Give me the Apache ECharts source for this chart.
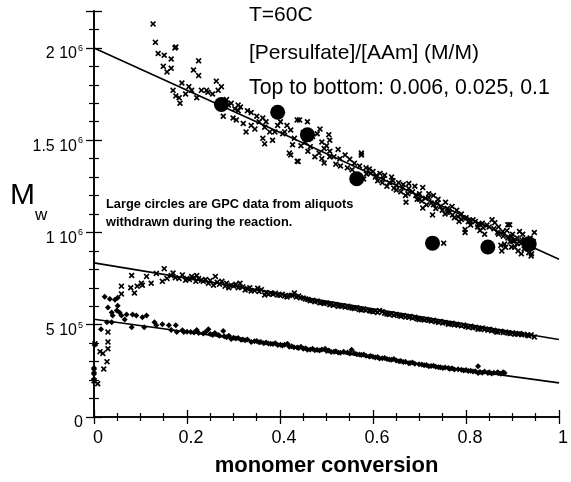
<!DOCTYPE html>
<html><head><meta charset="utf-8">
<script src="https://cdn.jsdelivr.net/npm/echarts@6/dist/echarts.min.js"></script>
<style>html,body{margin:0;padding:0;background:#fff}#c{width:571px;height:482px}</style>
</head><body><div id="c"></div>
<script>
// y values in units of 10^6
const xTickValues = [0, 0.2, 0.4, 0.6, 0.8, 1];
const xTickLabels = ['0', '0.2', '0.4', '0.6', '0.8', '1'];
const yTickValues = [0, 0.5, 1, 1.5, 2];
const yTickMantissa = ['0', '5 10', '1 10', '1.5 10', '2 10'];
const yTickExponent = ['', '5', '6', '6', '6'];

// [Persulfate]/[AAm] = 0.006
const s006 = [
[0.127,2.13],[0.132,2.03],[0.138,1.97],[0.151,1.96],[0.166,1.94],[0.174,2.0],[0.149,1.90],[0.157,1.87],[0.166,1.89],[0.170,1.77],[0.176,1.74],[0.185,1.70],[0.183,1.73],[0.189,1.81],[0.197,1.75],[0.204,1.79],[0.210,1.77],[0.214,1.88],[0.225,1.93],[0.225,1.85],[0.221,1.73],[0.231,1.77],[0.242,1.77],[0.263,1.82],[0.267,1.77],[0.274,1.79],[0.278,1.63],[0.289,1.69],[0.303,1.67],[0.310,1.69],[0.310,1.66],[0.299,1.62],[0.306,1.61],[0.321,1.59],[0.327,1.545],[0.338,1.58],[0.346,1.56],[0.363,1.62],[0.367,1.57],[0.378,1.545],[0.389,1.545],[0.406,1.535],[0.401,1.60],[0.423,1.555],[0.442,1.61],[0.459,1.60],[0.363,1.51],[0.367,1.48],[0.384,1.50],[0.410,1.545],[0.420,1.43],[0.427,1.475],[0.439,1.385],[0.431,1.51],[0.454,1.49],[0.465,1.465],[0.480,1.535],[0.490,1.49],[0.495,1.455],[0.484,1.43],[0.505,1.53],[0.507,1.44],[0.516,1.41],[0.490,1.40],[0.176,2.005],[0.338,1.65],[0.437,1.61],[0.486,1.56],[0.575,1.43],[0.507,1.50],
[0.245,1.76],[0.255,1.75],[0.285,1.72],[0.295,1.70],[0.315,1.68],[0.33,1.66],[0.35,1.63],[0.355,1.60],[0.37,1.60],[0.395,1.58],[0.415,1.58],[0.45,1.54],[0.47,1.52],[0.50,1.47],[0.525,1.45],[0.54,1.42],[0.46,1.44],[0.475,1.41],[0.445,1.47],
[0.437,1.386],[0.423,1.42],[0.495,1.376],[0.507,1.41],[0.529,1.40],[0.550,1.397],[0.575,1.42],[0.571,1.36],[0.592,1.344],[0.607,1.307],[0.622,1.29],[0.635,1.27],[0.650,1.254],[0.664,1.243],[0.677,1.238],[0.671,1.164],[0.692,1.2],[0.707,1.132],[0.713,1.185],[0.720,1.21],[0.730,1.20],[0.739,1.159],[0.728,1.095],[0.749,1.12],[0.756,1.164],[0.771,1.095],[0.783,1.085],[0.794,1.079],[0.805,1.058],[0.798,1.0],[0.815,1.069],[0.826,1.042],[0.837,1.026],[0.856,1.069],[0.862,1.053],[0.868,1.0],[0.879,1.005],[0.890,1.042],[0.898,0.979],[0.904,0.952],[0.915,1.005],[0.926,0.963],[0.932,0.921],[0.941,0.884],[0.947,1.0],[0.898,0.921],[0.883,0.937],[0.877,0.90],[0.752,0.942],[0.707,1.243],[0.677,1.265],[0.643,1.28],[0.586,1.317],[0.580,1.29],[0.894,1.042],[0.798,1.016],[0.919,0.884],[0.940,0.873],
[0.52,1.37],[0.53,1.36],[0.545,1.35],[0.555,1.34],[0.56,1.375],[0.585,1.35],[0.60,1.33],[0.61,1.28],[0.615,1.32],[0.625,1.31],[0.63,1.25],[0.64,1.30],[0.645,1.24],[0.655,1.27],[0.66,1.22],[0.665,1.26],[0.67,1.20],[0.685,1.22],[0.69,1.25],[0.695,1.18],[0.70,1.21],[0.705,1.17],[0.715,1.15],[0.72,1.19],[0.725,1.16],[0.735,1.13],[0.74,1.18],[0.745,1.14],[0.755,1.10],[0.76,1.13],[0.765,1.11],[0.77,1.14],[0.775,1.08],[0.78,1.12],[0.785,1.06],[0.79,1.10],[0.80,1.08],[0.81,1.04],[0.82,1.06],[0.83,1.01],[0.835,1.05],[0.84,0.99],[0.845,1.04],[0.86,1.02],[0.87,1.03],[0.875,0.93],[0.88,0.98],[0.885,0.92],[0.888,1.01],[0.895,0.95],[0.90,0.99],[0.905,0.92],[0.91,0.97],[0.912,0.90],[0.918,0.94],[0.922,0.99],[0.925,0.91],[0.93,0.95],[0.935,0.89],[0.938,0.97],[0.943,0.92],[0.945,0.95],
[0.595,1.32],[0.605,1.30],[0.62,1.27],[0.65,1.23],[0.675,1.21],[0.70,1.18],[0.73,1.15],[0.76,1.11],[0.79,1.07],[0.81,1.06],[0.825,1.03],[0.85,1.03],[0.87,0.99],[0.89,0.97],[0.91,0.94],[0.928,0.93],[0.92,0.96],[0.90,0.955]
];

// [Persulfate]/[AAm] = 0.025
const s025 = [
[0.0,0.196],[0.008,0.18],[0.0,0.249],[0.002,0.397],[0.013,0.354],[0.019,0.344],[0.030,0.46],[0.028,0.30],[0.021,0.26],[0.030,0.37],[0.030,0.407],[0.059,0.709],[0.079,0.70],[0.087,0.672],[0.093,0.709],[0.102,0.725],[0.113,0.762],[0.123,0.725],[0.059,0.667],
[0.081,0.767],[0.104,0.714],[0.134,0.778],[0.151,0.804],[0.147,0.735],[0.157,0.751],[0.166,0.767],[0.183,0.751],[0.197,0.741],[0.210,0.762],[0.221,0.767],[0.219,0.735],[0.231,0.741],[0.246,0.725],[0.261,0.762],[0.257,0.714],[0.282,0.709],[0.295,0.714],[0.314,0.725],[0.325,0.688],[0.338,0.683],[0.352,0.698],[0.367,0.661],[0.380,0.672],[0.395,0.661],[0.410,0.656],[0.431,0.672],[0.444,0.646],[0.465,0.63],[0.486,0.619],[0.507,0.608],[0.529,0.603],[0.550,0.593],[0.571,0.582],[0.592,0.577],[0.614,0.577],[0.635,0.556],[0.656,0.55],[0.677,0.54],[0.699,0.529],[0.720,0.524],[0.741,0.513],[0.762,0.503],[0.783,0.497],[0.805,0.487],[0.826,0.476],[0.847,0.471],[0.868,0.46],[0.890,0.455],[0.911,0.45],[0.932,0.444],[0.947,0.434],
[0.17,0.78],[0.175,0.755],[0.19,0.77],[0.20,0.75],[0.205,0.745],[0.215,0.755],[0.225,0.75],[0.235,0.735],[0.24,0.745],[0.25,0.74],[0.265,0.73],[0.27,0.72],[0.275,0.735],[0.285,0.725],[0.29,0.70],[0.30,0.71],[0.305,0.72],[0.31,0.70],[0.32,0.705],[0.33,0.695],[0.335,0.70],[0.345,0.685],[0.355,0.68],[0.36,0.69],[0.37,0.675],[0.375,0.665],[0.385,0.665],[0.39,0.67],[0.40,0.66],[0.405,0.665],[0.415,0.65],[0.42,0.658],[0.425,0.66],[0.435,0.65],[0.44,0.655],[0.45,0.645],[0.455,0.64],[0.46,0.637],[0.47,0.632],[0.475,0.625],[0.48,0.628],[0.49,0.62],[0.495,0.615],[0.50,0.618],[0.51,0.612],[0.515,0.605],[0.52,0.61],[0.525,0.6],[0.535,0.602],[0.54,0.596],[0.545,0.6],[0.555,0.59],[0.56,0.588],[0.565,0.592],[0.575,0.58],[0.58,0.585],[0.585,0.578],[0.595,0.574],[0.60,0.57],[0.605,0.575],[0.61,0.566],[0.62,0.57],[0.625,0.562],[0.63,0.558],[0.64,0.56],[0.645,0.552],[0.65,0.556],[0.66,0.546],[0.665,0.55],[0.67,0.542],[0.68,0.545],[0.685,0.536],[0.69,0.54],[0.695,0.532],[0.705,0.53],[0.71,0.526],[0.715,0.53],[0.725,0.52],[0.73,0.524],[0.735,0.516],[0.745,0.518],[0.75,0.51],[0.755,0.512],[0.765,0.505],[0.77,0.508],[0.775,0.5],[0.78,0.502],[0.79,0.494],[0.795,0.498],[0.80,0.49],[0.81,0.492],[0.815,0.484],[0.82,0.486],[0.83,0.478],[0.835,0.482],[0.84,0.474],[0.85,0.476],[0.855,0.468],[0.86,0.47],[0.865,0.462],[0.875,0.465],[0.88,0.458],[0.885,0.46],[0.895,0.452],[0.90,0.456],[0.905,0.448],[0.915,0.452],[0.92,0.446],[0.925,0.448],[0.935,0.44],[0.94,0.445]
];

// [Persulfate]/[AAm] = 0.1
const s100 = [
[0.0,0.265],[0.0,0.233],[0.0,0.206],[0.002,0.392],[0.015,0.476],[0.023,0.651],[0.034,0.64],[0.045,0.635],[0.051,0.646],[0.030,0.593],[0.038,0.566],[0.049,0.577],[0.055,0.566],[0.040,0.55],[0.051,0.603],[0.059,0.55],[0.070,0.556],[0.083,0.556],[0.091,0.55],[0.104,0.54],[0.113,0.55],[0.028,0.513],[0.038,0.513],[0.066,0.529],[0.081,0.487],[0.108,0.487],[0.130,0.513],[0.134,0.497],[0.147,0.503],[0.161,0.497],[0.176,0.497],[0.166,0.471],[0.178,0.46],[0.193,0.46],[0.208,0.46],[0.221,0.471],[0.246,0.476],[0.278,0.466],[0.267,0.444],[0.295,0.423],[0.316,0.418],[0.338,0.407],[0.359,0.407],[0.380,0.397],[0.401,0.392],[0.416,0.397],[0.437,0.376],[0.459,0.365],[0.480,0.365],[0.497,0.37],[0.516,0.354],[0.537,0.354],[0.554,0.365],[0.571,0.339],[0.592,0.328],[0.614,0.317],[0.635,0.312],[0.656,0.302],[0.677,0.291],[0.699,0.286],[0.720,0.275],[0.741,0.27],[0.762,0.265],[0.783,0.259],[0.805,0.249],[0.826,0.275],[0.826,0.238],[0.847,0.238],[0.868,0.243],[0.883,0.238],
[0.19,0.47],[0.2,0.462],[0.215,0.458],[0.225,0.455],[0.235,0.452],[0.24,0.46],[0.25,0.45],[0.255,0.445],[0.26,0.455],[0.27,0.44],[0.28,0.438],[0.285,0.432],[0.29,0.44],[0.30,0.43],[0.305,0.425],[0.31,0.428],[0.32,0.42],[0.325,0.416],[0.33,0.42],[0.345,0.41],[0.35,0.412],[0.355,0.405],[0.365,0.4],[0.37,0.404],[0.375,0.398],[0.385,0.395],[0.39,0.4],[0.395,0.39],[0.405,0.388],[0.41,0.392],[0.42,0.38],[0.425,0.384],[0.43,0.378],[0.44,0.374],[0.445,0.38],[0.45,0.37],[0.455,0.372],[0.465,0.366],[0.47,0.37],[0.475,0.362],[0.485,0.36],[0.49,0.366],[0.50,0.357],[0.505,0.36],[0.51,0.352],[0.52,0.356],[0.525,0.35],[0.53,0.348],[0.545,0.35],[0.55,0.344],[0.56,0.346],[0.565,0.34],[0.575,0.336],[0.58,0.338],[0.585,0.332],[0.595,0.33],[0.60,0.326],[0.605,0.322],[0.61,0.325],[0.62,0.318],[0.625,0.32],[0.63,0.314],[0.64,0.31],[0.645,0.314],[0.65,0.306],[0.66,0.304],[0.665,0.298],[0.67,0.3],[0.68,0.292],[0.685,0.295],[0.69,0.288],[0.705,0.285],[0.71,0.28],[0.715,0.282],[0.725,0.276],[0.73,0.278],[0.735,0.272],[0.745,0.27],[0.75,0.266],[0.755,0.268],[0.765,0.262],[0.77,0.264],[0.775,0.258],[0.79,0.256],[0.795,0.252],[0.80,0.255],[0.81,0.25],[0.815,0.246],[0.82,0.248],[0.83,0.244],[0.835,0.24],[0.84,0.246],[0.85,0.242],[0.855,0.236],[0.86,0.24],[0.87,0.238],[0.875,0.235],[0.88,0.242]
];

// GPC large circles
const gpcX = [0.274, 0.395, 0.459, 0.565, 0.728, 0.847, 0.936];
const gpcY = [1.693, 1.651, 1.529, 1.291, 0.942, 0.921, 0.937];

// fitted lines: endpoints at x = 0 and x = 1
const fitX = [0, 1];
const fit006 = [2.0, 0.855];
const fit025 = [0.835, 0.42];
const fit100 = [0.53, 0.185];

const FONT = 'Liberation Sans, Arial, Helvetica, sans-serif';
const INK = '#000';
const crossPath = 'path://M0,2L2,0L5,3L8,0L10,2L7,5L10,8L8,10L5,7L2,10L0,8L3,5Z';

const chart = echarts.init(document.getElementById('c'), null, {renderer: 'canvas'});

function fitLine(ys) { return fitX.map((x, i) => [x, ys[i]]); }

const axisCommon = {
  type: 'value', min: 0,
  axisLine: {show: true, lineStyle: {color: INK, width: 1.6}},
  splitLine: {show: false},
};

chart.setOption({
  backgroundColor: '#fff',
  animation: false,
  grid: {left: 94, right: 6, top: 11, bottom: 55, containLabel: false},
  xAxis: [
    Object.assign({}, axisCommon, {
      max: 1, interval: 0.2, position: 'bottom',
      axisTick: {show: true, inside: true, length: 7, lineStyle: {color: INK, width: 1.3}},
      minorTick: {show: true, splitNumber: 4, length: 4, lineStyle: {color: INK, width: 1.2}},
      axisLabel: {margin: 12, fontFamily: FONT, fontSize: 18, color: INK, padding: [0, 0, 0, 8],
        formatter: v => { const i = xTickValues.findIndex(t => Math.abs(t - v) < 1e-6); return i >= 0 ? xTickLabels[i] : ''; }},
      name: 'monomer conversion', nameLocation: 'middle', nameGap: 38,
      nameTextStyle: {fontFamily: FONT, fontSize: 22, fontWeight: 'bold', color: INK}
    }),
    Object.assign({}, axisCommon, {
      max: 1, interval: 0.2, position: 'top',
      axisTick: {show: true, inside: true, length: 7, lineStyle: {color: INK, width: 1.3}},
      minorTick: {show: true, splitNumber: 4, length: 4, lineStyle: {color: INK, width: 1.2}},
      axisLabel: {show: false}
    })
  ],
  yAxis: [
    Object.assign({}, axisCommon, {
      max: 2.2, interval: 0.5, position: 'left',
      axisTick: {show: true, inside: true, length: 8, lineStyle: {color: INK, width: 1.3}},
      minorTick: {show: true, splitNumber: 5, length: 5, lineStyle: {color: INK, width: 1.2}},
      axisLabel: {margin: 11, color: INK, padding: [10, 0, 0, 0],
        formatter: v => {
          const i = yTickValues.findIndex(t => Math.abs(t - v) < 1e-6);
          if (i < 0) return '';
          return yTickExponent[i] ? '{b|' + yTickMantissa[i] + '}{s|' + yTickExponent[i] + '}' : '{b|' + yTickMantissa[i] + '}';
        },
        rich: {
          b: {fontFamily: FONT, fontSize: 16, color: INK, lineHeight: 18, verticalAlign: 'bottom'},
          s: {fontFamily: FONT, fontSize: 9, color: INK, lineHeight: 18, verticalAlign: 'top', padding: [0, 0, 0, 1]}
        }}
    }),
    Object.assign({}, axisCommon, {
      max: 2.2, interval: 0.5, position: 'right',
      axisTick: {show: true, inside: true, length: 8, lineStyle: {color: INK, width: 1.3}},
      minorTick: {show: true, splitNumber: 5, length: 5, lineStyle: {color: INK, width: 1.2}},
      axisLabel: {show: false}
    })
  ],
  series: [
    {type: 'line', data: fitLine(fit006), symbol: 'none', lineStyle: {color: INK, width: 1.6}, z: 3},
    {type: 'line', data: fitLine(fit025), symbol: 'none', lineStyle: {color: INK, width: 1.6}, z: 3},
    {type: 'line', data: fitLine(fit100), symbol: 'none', lineStyle: {color: INK, width: 1.6}, z: 3},
    {type: 'scatter', data: s006, symbol: crossPath, symbolSize: 6, itemStyle: {color: INK, opacity: 1}, z: 4},
    {type: 'scatter', data: s025, symbol: crossPath, symbolSize: 6, itemStyle: {color: INK, opacity: 1}, z: 4},
    {type: 'scatter', data: s100, symbol: 'diamond', symbolSize: 6, itemStyle: {color: INK, opacity: 1}, z: 4},
    {type: 'scatter', data: gpcX.map((x, i) => [x, gpcY[i]]), symbol: 'circle', symbolSize: 15, itemStyle: {color: INK, opacity: 1}, z: 5}
  ],
  graphic: [
    {type: 'text', left: 249, top: 5, style: {text: 'T=60C', font: '21px ' + FONT, fill: INK}},
    {type: 'text', left: 249, top: 43, style: {text: '[Persulfate]/[AAm] (M/M)', font: '21px ' + FONT, fill: INK}},
    {type: 'text', left: 249, top: 78, style: {text: 'Top to bottom: 0.006, 0.025, 0.1', font: '21.3px ' + FONT, fill: INK}},
    {type: 'text', left: 106, top: 198, style: {text: 'Large circles are GPC data from aliquots', font: 'bold 12.8px ' + FONT, fill: INK}},
    {type: 'text', left: 106, top: 216, style: {text: 'withdrawn during the reaction.', font: 'bold 12.8px ' + FONT, fill: INK}},
    {type: 'text', left: 10, top: 181, style: {text: 'M', font: '30px ' + FONT, fill: INK}},
    {type: 'text', left: 35, top: 207, style: {text: 'w', font: '17px ' + FONT, fill: INK}}
  ]
});
</script>
</body></html>
